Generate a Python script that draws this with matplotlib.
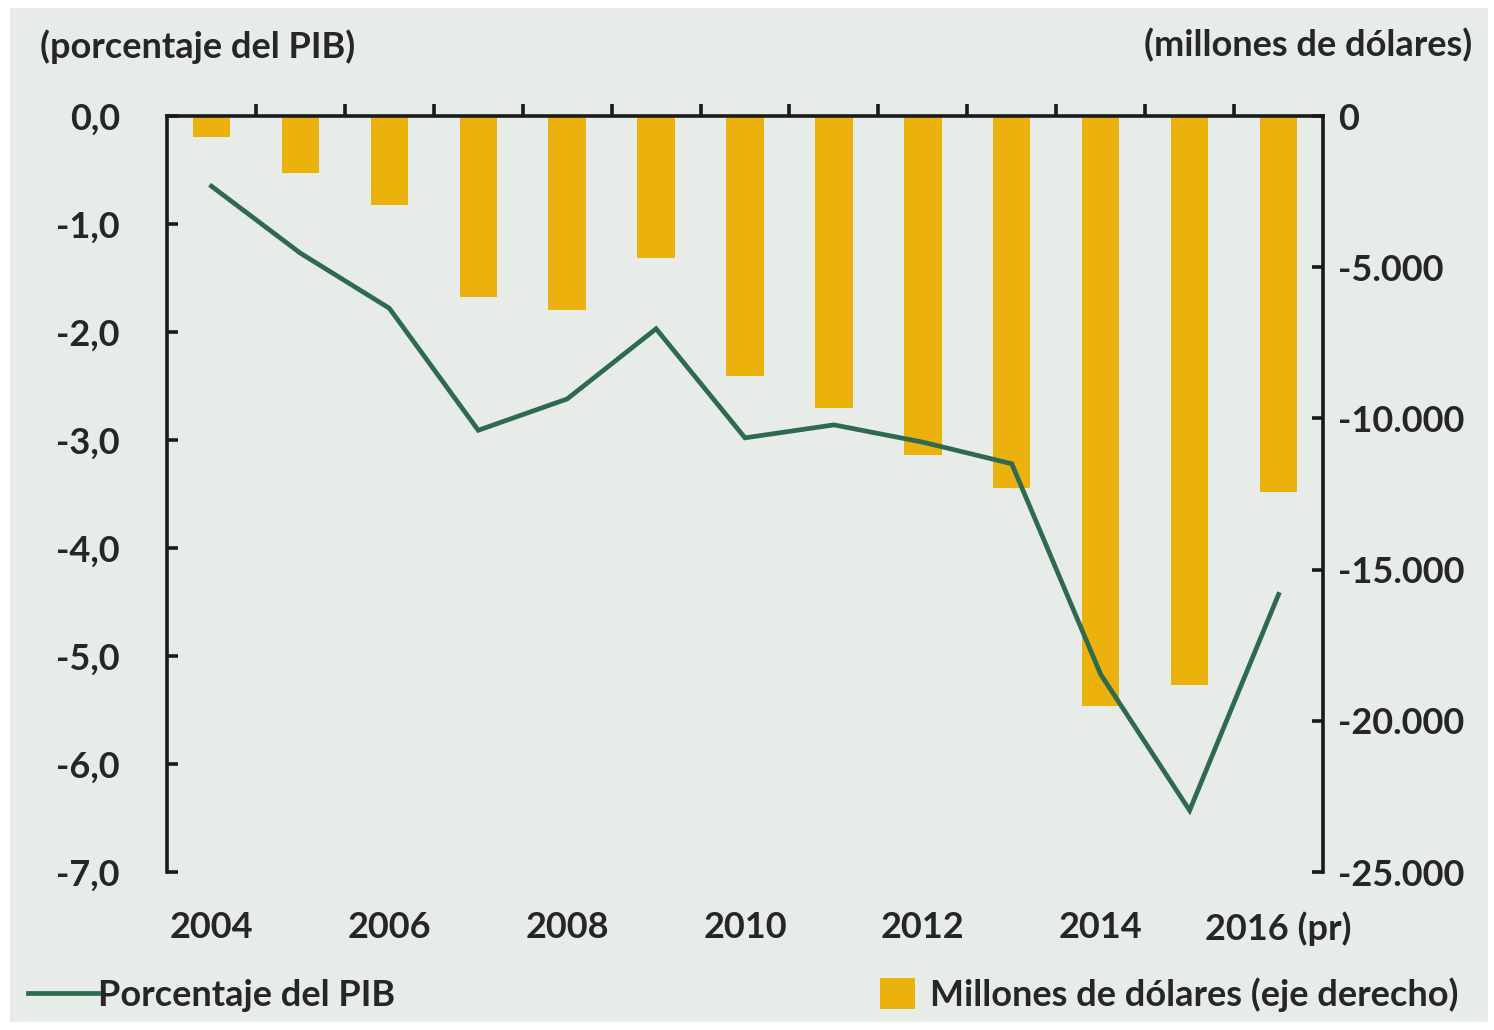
import matplotlib
matplotlib.use("Agg")
import matplotlib.pyplot as plt
from matplotlib.patches import Rectangle
import numpy as np

# ---- data ----
years = ["2004", "2005", "2006", "2007", "2008", "2009", "2010",
         "2011", "2012", "2013", "2014", "2015", "2016 (pr)"]
pct_pib = [-0.65, -1.27, -1.78, -2.91, -2.62, -1.97, -2.98,
           -2.86, -3.02, -3.22, -5.17, -6.43, -4.43]
millones = [-700, -1900, -2950, -6000, -6400, -4700, -8600,
            -9650, -11200, -12300, -19500, -18800, -12450]
left_ticks = [0, -1, -2, -3, -4, -5, -6, -7]
right_ticks = [0, -5000, -10000, -15000, -20000, -25000]
xlabel_years = ["2004", "2006", "2008", "2010", "2012", "2014", "2016 (pr)"]

BG = "#E8ECE8"
BAR = "#EBB10D"
LINE = "#2D6A4F"
TXT = "#262626"
FONT = "Lato"
FS = 26

plt.rcParams["font.family"] = [FONT, "DejaVu Sans"]

W, H = 1494, 1030
fig = plt.figure(figsize=(W / 100, H / 100), dpi=100, facecolor="white")
fig.patches.append(Rectangle((10 / W, 1 - 1022 / H), (1488 - 10) / W, (1022 - 8) / H,
                             transform=fig.transFigure, facecolor=BG, edgecolor="none", zorder=-5))

l, r, t, b = 167 / W, 1323 / W, 1 - 116 / H, 1 - 872 / H
ax2 = fig.add_axes([l, b, r - l, t - b], zorder=1)
ax = ax2.twinx()
ax.set_zorder(2)
ax.patch.set_visible(False)
ax2.patch.set_visible(False)

x = np.arange(len(years))
bars = ax2.bar(x, millones, width=0.42, color=BAR, zorder=2, label="Millones de dólares (eje derecho)")
line, = ax.plot(x, pct_pib, color=LINE, lw=3.4, zorder=3, label="Porcentaje del PIB",
                solid_joinstyle="miter")

ax2.set_xlim(-0.5, len(years) - 0.5)
ax.set_ylim(-7, 0)
ax2.set_ylim(-25000, 0)

# ax2 holds the bars (right axis), ax holds the line (left axis)
ax2.yaxis.tick_right()
ax.yaxis.tick_left()

for a in (ax, ax2):
    a.spines["bottom"].set_visible(False)
    for s in ("top", "left", "right"):
        a.spines[s].set_linewidth(2.6)
        a.spines[s].set_color("#1a1a1a")
ax2.spines["left"].set_visible(False)
ax.spines["right"].set_visible(False)
ax.spines["top"].set_visible(False)

# y ticks
ax.set_yticks(left_ticks)
ax.set_yticklabels([f"{v:.1f}".replace(".", ",") for v in left_ticks])
ax.tick_params(axis="y", direction="in", length=8, width=2.6, color="#1a1a1a",
               pad=34, labelsize=FS, labelcolor=TXT, left=True, right=False,
               labelleft=True, labelright=False)
ax2.set_yticks(right_ticks)
ax2.set_yticklabels(["0" if v == 0 else f"{v:,}".replace(",", ".") for v in right_ticks])
ax2.tick_params(axis="y", direction="in", length=8, width=2.6, color="#1a1a1a",
                pad=11, labelsize=FS, labelcolor=TXT, left=False, right=True,
                labelleft=False, labelright=True)

# x ticks (on the base axes): labels on bottom, marks at category boundaries on top
ax2.set_xticks([years.index(y) for y in xlabel_years])
ax2.set_xticklabels(xlabel_years)
ax2.set_xticks(np.arange(0.5, len(years) - 1, 1.0), minor=True)
ax2.tick_params(axis="x", which="major", bottom=True, top=False, length=0, pad=28,
                labelsize=FS, labelcolor=TXT, labelbottom=True, labeltop=False)
ax2.tick_params(axis="x", which="minor", bottom=False, top=True, direction="out",
                length=9, width=2.6, color="#1a1a1a")

for lab in ax2.get_xticklabels() + ax.get_yticklabels() + ax2.get_yticklabels():
    lab.set_fontweight("bold")

# axis titles
fig.text(40 / W, 1 - 47 / H, "(porcentaje del PIB)", ha="left", va="center",
         fontsize=FS, fontweight="bold", color=TXT)
fig.text(1472 / W, 1 - 45 / H, "(millones de dólares)", ha="right", va="center",
         fontsize=FS, fontweight="bold", color=TXT)

# legends
leg1 = fig.legend(handles=[line], loc="center left", bbox_to_anchor=(28 / W, 1 - 995 / H),
                  frameon=False, handlelength=1.95, handletextpad=0.0,
                  borderpad=0, borderaxespad=0, prop={"weight": "bold", "size": FS})
leg2 = fig.legend(handles=[bars], loc="center left", bbox_to_anchor=(880 / W, 1 - 995 / H),
                  frameon=False, handlelength=0.97, handleheight=0.95, handletextpad=0.42,
                  borderpad=0, borderaxespad=0, prop={"weight": "bold", "size": FS})
for lg in (leg1, leg2):
    for tx in lg.get_texts():
        tx.set_color(TXT)

fig.savefig("out.png", dpi=100, facecolor="white")
